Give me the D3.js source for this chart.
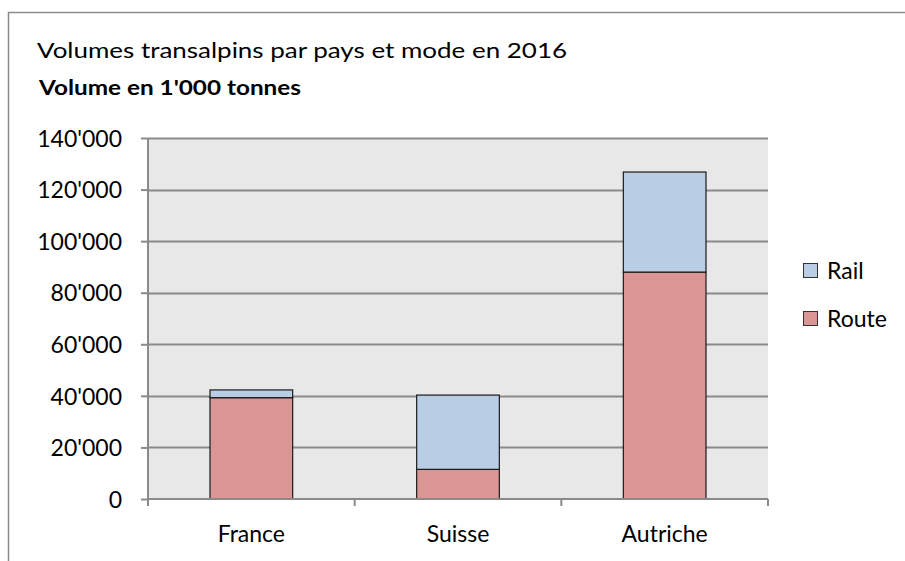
<!DOCTYPE html>
<html>
<head>
<meta charset="utf-8">
<script src="https://cdn.jsdelivr.net/npm/d3@7"></script>
<style>
  body { margin: 0; background: #fff; }
  text { font-family: Lato, "Open Sans", sans-serif; fill: #000; }
</style>
</head>
<body>
<div id="chart"></div>
<script>
// data (1'000 tonnes)
var countries = ["France", "Suisse", "Autriche"];
var route = [39300, 11500, 88000];
var rail = [3000, 28800, 38800];
var seriesNames = ["Rail", "Route"];
var yTicks = [0, 20000, 40000, 60000, 80000, 100000, 120000, 140000];

var W = 905, H = 561;
var margin = {top: 138, left: 148, right: 137, bottom: 62};
var width = W - margin.left - margin.right,
    height = H - margin.top - margin.bottom;

var colors = {Route: "#d99694", Rail: "#b9cde5"};

var svg = d3.select("#chart").append("svg")
    .attr("width", W)
    .attr("height", H);

// outer chart frame
svg.append("path")
    .attr("d", "M8.5," + H + "V12.5H" + W)
    .attr("fill", "none")
    .attr("stroke", "#8c8c8c")
    .attr("stroke-width", 1.5);

svg.append("text")
    .attr("x", 37)
    .attr("y", 58)
    .style("font-size", "21px")
    .attr("textLength", 530)
    .attr("lengthAdjust", "spacingAndGlyphs")
    .text("Volumes transalpins par pays et mode en 2016");

svg.append("text")
    .attr("x", 39)
    .attr("y", 95)
    .style("font-size", "20px")
    .style("font-weight", "bold")
    .attr("textLength", 262)
    .attr("lengthAdjust", "spacingAndGlyphs")
    .text("Volume en 1'000 tonnes");

var g = svg.append("g")
    .attr("transform", "translate(" + margin.left + "," + margin.top + ")");

var x = d3.scaleBand().domain(countries).range([0, width]).paddingInner(0.6).paddingOuter(0.3);
var xEdges = d3.scaleLinear().domain([0, countries.length]).range([0, width]);
var y = d3.scaleLinear().domain([0, 140000]).range([height, 0]);

g.append("rect")
    .attr("width", width)
    .attr("height", height)
    .attr("fill", "#e8e8e8");

// gridlines
g.selectAll(".grid")
    .data(yTicks.slice(1))
  .enter().append("line")
    .attr("x1", 0).attr("x2", width)
    .attr("y1", function(d) { return Math.round(y(d)) + 0.5; })
    .attr("y2", function(d) { return Math.round(y(d)) + 0.5; })
    .attr("stroke", "#8a8a8a")
    .attr("stroke-width", 2);

// stacked bars
var table = countries.map(function(c, i) { return {country: c, Route: route[i], Rail: rail[i]}; });
var stack = d3.stack().keys(["Route", "Rail"])(table);

g.selectAll(".layer")
    .data(stack)
  .enter().append("g")
    .attr("fill", function(d) { return colors[d.key]; })
  .selectAll("rect")
    .data(function(d) { return d; })
  .enter().append("rect")
    .attr("x", function(d) { return x(d.data.country); })
    .attr("width", x.bandwidth())
    .attr("y", function(d) { return y(d[1]); })
    .attr("height", function(d) { return y(d[0]) - y(d[1]); })
    .attr("stroke", "#1a1a1a")
    .attr("stroke-width", 1.2);

// y axis
var yAxis = d3.axisLeft(y).tickValues(yTicks).tickSize(7)
    .tickFormat(function(d) { return d3.format(",")(d).replace(/,/g, "'"); });
var ya = g.append("g").call(yAxis);
ya.select(".domain").attr("stroke", "#8a8a8a").attr("stroke-width", 2).attr("d", "M0,0V" + height);
ya.selectAll(".tick line").attr("stroke", "#8a8a8a").attr("stroke-width", 2);
ya.selectAll(".tick text")
    .attr("x", -26)
    .attr("dy", "0.36em")
    .style("font-size", "23px")
    .style("font-family", "Lato, sans-serif")
    .attr("fill", "#000");

// x axis
var xa = g.append("g").attr("transform", "translate(0," + height + ")");
xa.append("line")
    .attr("x1", 0).attr("x2", width)
    .attr("stroke", "#8a8a8a").attr("stroke-width", 2);
xa.selectAll(".xtick")
    .data(d3.range(countries.length + 1))
  .enter().append("line")
    .attr("x1", function(d) { return xEdges(d); })
    .attr("x2", function(d) { return xEdges(d); })
    .attr("y1", 0).attr("y2", 7)
    .attr("stroke", "#8a8a8a").attr("stroke-width", 2);
xa.selectAll(".xlabel")
    .data(countries)
  .enter().append("text")
    .attr("x", function(d) { return x(d) + x.bandwidth() / 2; })
    .attr("y", 43)
    .attr("text-anchor", "middle")
    .style("font-size", "23px")
    .text(function(d) { return d; });

// legend
var legend = svg.append("g").attr("transform", "translate(803,263)");
var item = legend.selectAll("g")
    .data(seriesNames)
  .enter().append("g")
    .attr("transform", function(d, i) { return "translate(0," + (i * 48) + ")"; });
item.append("rect")
    .attr("x", 0.5).attr("y", 0.5)
    .attr("width", 14).attr("height", 14)
    .attr("fill", function(d) { return colors[d]; })
    .attr("stroke", "#333")
    .attr("stroke-width", 1);
item.append("text")
    .attr("x", 24)
    .attr("y", 16)
    .style("font-size", "23px")
    .text(function(d) { return d; });
</script>
</body>
</html>
